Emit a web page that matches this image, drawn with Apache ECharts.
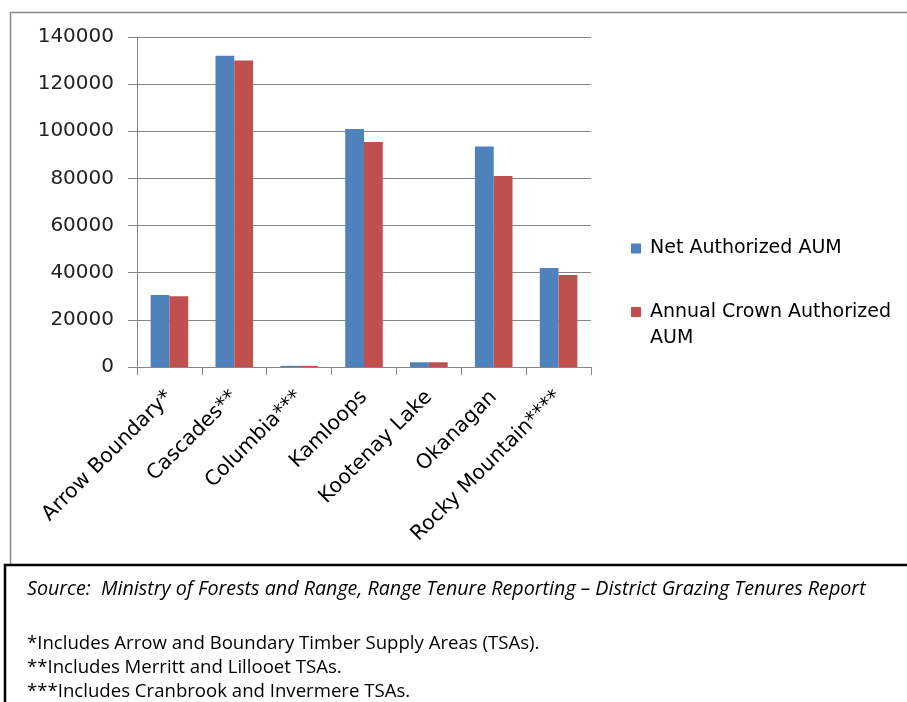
<!DOCTYPE html>
<html>
<head>
<meta charset="utf-8">
<script src="https://cdn.jsdelivr.net/npm/echarts@6/dist/echarts.min.js"></script>
<style>
    html,body{margin:0;padding:0;background:#fff;}
</style>
</head>
<body>
<div id="main" style="width:907px;height:702px;"></div>
<script>
    // data
    var districts = ['Arrow Boundary*', 'Cascades**', 'Columbia***', 'Kamloops', 'Kootenay Lake', 'Okanagan', 'Rocky Mountain****'];
    var netAuthorized = [30500, 132000, 500, 101000, 2000, 93500, 42000];
    var annualCrown = [30000, 130000, 500, 95500, 2000, 81000, 39000];
    var yTicks = [0, 20000, 40000, 60000, 80000, 100000, 120000, 140000];
    var footnotes = [
        '*Includes Arrow and Boundary Timber Supply Areas (TSAs).',
        '**Includes Merritt and Lillooet TSAs.',
        '***Includes Cranbrook and Invermere TSAs.'
    ];
    var sourceText = 'Source:  Ministry of Forests and Range, Range Tenure Reporting \u2013 District Grazing Tenures Report';

    var myChart = echarts.init(document.getElementById('main'));
    var axisFont = 'DejaVu Sans';

    var option = {
        animation: false,
        backgroundColor: '#fff',
        grid: {
            left: 137,
            right: 316,
            top: 37,
            bottom: 335
        },
        legend: [
            {
                data: ['Net Authorized AUM'],
                left: 631,
                top: 239,
                padding: 0,
                icon: 'rect',
                itemWidth: 10,
                itemHeight: 10,
                textStyle: {fontFamily: axisFont, fontSize: 19, color: '#000', padding: [0, 0, 0, 4]}
            },
            {
                data: ['Annual Crown Authorized AUM'],
                left: 631,
                top: 273,
                padding: 0,
                icon: 'rect',
                itemWidth: 10,
                itemHeight: 10,
                // blank first line keeps the marker beside the first text line
                formatter: function(){ return ' \nAnnual Crown Authorized\nAUM'; },
                textStyle: {fontFamily: axisFont, fontSize: 19, color: '#000', lineHeight: 26, padding: [0, 0, 0, 4]}
            }
        ],
        xAxis: {
            type: 'category',
            data: districts,
            axisLine: {lineStyle: {color: '#868686'}},
            axisTick: {show: true, length: 8, lineStyle: {color: '#868686'}},
            axisLabel: {
                rotate: 45,
                interval: 0,
                margin: 27,
                fontFamily: axisFont,
                fontSize: 20.5,
                color: '#000'
            }
        },
        yAxis: {
            type: 'value',
            min: yTicks[0],
            max: yTicks[yTicks.length - 1],
            interval: yTicks[1] - yTicks[0],
            axisLine: {show: true, lineStyle: {color: '#868686'}},
            axisTick: {show: true, length: 9, lineStyle: {color: '#868686'}},
            splitLine: {show: true, lineStyle: {color: '#868686', width: 1}},
            axisLabel: {
                margin: 23,
                fontFamily: axisFont,
                fontSize: 20,
                color: '#222',
                formatter: function(v){ return String(v); }
            }
        },
        series: [
            {
                name: 'Net Authorized AUM',
                type: 'bar',
                data: netAuthorized,
                barGap: '0%',
                barCategoryGap: '42%',
                itemStyle: {color: '#4F81BD'}
            },
            {
                name: 'Annual Crown Authorized AUM',
                type: 'bar',
                data: annualCrown,
                barGap: '0%',
                barCategoryGap: '42%',
                itemStyle: {color: '#C0504D'}
            }
        ],
        graphic: [
            // chart frame
            {
                type: 'rect',
                shape: {x: 10.5, y: 12.5, width: 920, height: 560},
                style: {fill: 'none', stroke: '#888', lineWidth: 1.5},
                z: -1
            },
            // notes box
            {
                type: 'rect',
                shape: {x: 5, y: 565, width: 920, height: 160},
                style: {fill: '#fff', stroke: '#000', lineWidth: 2.5},
                z: 1
            },
            {
                type: 'text',
                left: 27,
                top: 579,
                z: 2,
                style: {text: sourceText, font: 'italic 19.7px "Open Sans"', fill: '#000'}
            },
            {
                type: 'text',
                left: 27,
                top: 632,
                z: 2,
                style: {text: footnotes.join('\n'), font: '18.6px "Open Sans"', lineHeight: 24, fill: '#000'}
            }
        ]
    };
    myChart.setOption(option);
</script>
</body>
</html>
